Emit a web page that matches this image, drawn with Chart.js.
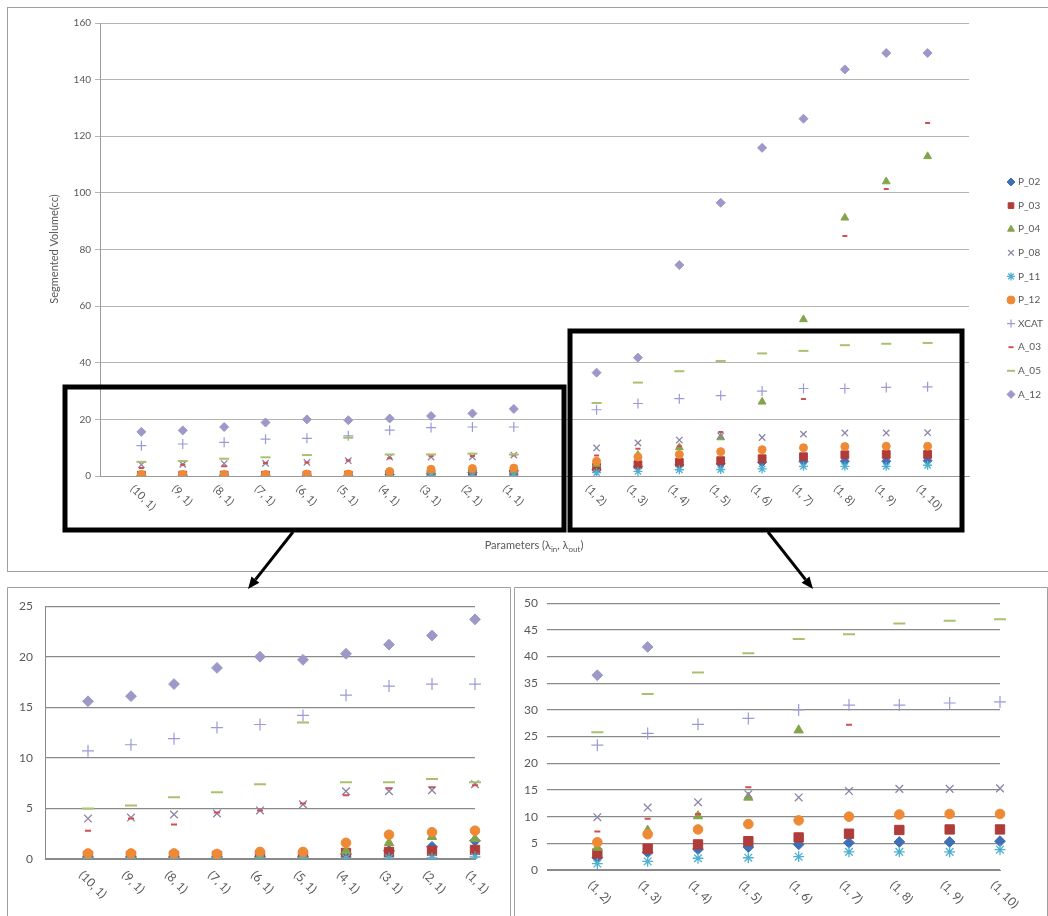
<!DOCTYPE html>
<html>
<head>
<meta charset="utf-8">
<script src="https://cdn.jsdelivr.net/npm/chart.js@4/dist/chart.umd.min.js"></script>
<style>
  body { margin: 0; background: #fff; }
  #page { position: relative; width: 1048px; height: 916px; overflow: hidden; background: #fff; }
  canvas { position: absolute; }
  #mainChart { left: 0; top: 0; z-index: 2; }
  #leftChart { left: 7px; top: 587px; }
  #rightChart { left: 514px; top: 587px; }
</style>
</head>
<body>
<div id="page">
  <canvas id="leftChart" width="504" height="329"></canvas>
  <canvas id="rightChart" width="534" height="329"></canvas>
  <canvas id="mainChart" width="1048" height="590"></canvas>
</div>
<script>
// categories (lambda_in, lambda_out)
const leftLabels = ['(10, 1)', '(9, 1)', '(8, 1)', '(7, 1)', '(6, 1)', '(5, 1)', '(4, 1)', '(3, 1)', '(2, 1)', '(1, 1)'];
const rightLabels = ['(1, 2)', '(1, 3)', '(1, 4)', '(1, 5)', '(1, 6)', '(1, 7)', '(1, 8)', '(1, 9)', '(1, 10)'];

const seriesNames = ['P_02', 'P_03', 'P_04', 'P_08', 'P_11', 'P_12', 'XCAT', 'A_03', 'A_05', 'A_12'];

// segmented volume (cc): first 10 values = left labels, last 9 = right labels
const p02  = [0.2, 0.2, 0.2, 0.2, 0.2, 0.2, 0.5, 0.8, 1.2, 1.8,   2.3, 3.3, 3.9, 4.3, 4.8, 5.1, 5.25, 5.25, 5.4];
const p03  = [0.3, 0.3, 0.3, 0.3, 0.3, 0.3, 0.6, 0.7, 0.8, 0.9,   3.1, 4.0, 4.8, 5.4, 6.1, 6.8, 7.5, 7.6, 7.6];
const p04  = [0.3, 0.3, 0.3, 0.3, 0.3, 0.3, 0.8, 1.6, 2.2, 2.0,   4.2, 7.4, 10.1, 13.6, 26.2, 55.3, 91.2, 104, 112.9];
const p08  = [4.0, 4.1, 4.4, 4.5, 4.8, 5.4, 6.7, 6.7, 6.8, 7.4,   9.9, 11.7, 12.7, 14.2, 13.6, 14.8, 15.2, 15.2, 15.3];
const p11  = [0.1, 0.1, 0.1, 0.1, 0.1, 0.1, 0.1, 0.1, 0.1, 0.2,   1.2, 1.6, 2.2, 2.3, 2.5, 3.4, 3.4, 3.4, 3.8];
const p12  = [0.55, 0.55, 0.55, 0.5, 0.7, 0.7, 1.6, 2.4, 2.65, 2.8,   5.2, 6.7, 7.6, 8.6, 9.3, 10.0, 10.4, 10.5, 10.5];
const xcat = [10.7, 11.3, 11.9, 13.0, 13.3, 14.2, 16.2, 17.1, 17.3, 17.3,   23.4, 25.6, 27.3, 28.4, 30.0, 30.9, 30.9, 31.3, 31.5];
const a03  = [2.8, 4.0, 3.4, 4.6, 4.8, 5.5, 6.3, 7.0, 7.1, 7.3,   7.2, 9.6, 10.5, 15.5, null, 27.2, 84.8, 101.4, 124.7];
const a05  = [5.0, 5.3, 6.1, 6.6, 7.4, 13.5, 7.6, 7.6, 7.9, 7.6,   25.8, 33.0, 37.0, 40.6, 43.3, 44.2, 46.2, 46.7, 47.0];
const a12  = [15.6, 16.1, 17.3, 18.9, 20.0, 19.7, 20.3, 21.2, 22.1, 23.7,   36.5, 41.8, 74.5, 96.5, 115.9, 126.2, 143.6, 149.4, 149.4];

const seriesValues = [p02, p03, p04, p08, p11, p12, xcat, a03, a05, a12];

// marker look per series (Excel-like)
const markerStyles = [
  { style: 'rectRot',  color: '#3f6fb5', r: 4.5, bw: 1 },
  { style: 'rect',     color: '#b03c3a', r: 5.5, bw: 1 },
  { style: 'triangle', color: '#84a44a', r: 4.5, bw: 1 },
  { style: 'crossRot', color: '#8c84a8', r: 4.5, bw: 1.3 },
  { style: 'star',     color: '#4fb0d0', r: 4.5, bw: 1.3 },
  { style: 'circle',   color: '#ee8a36', r: 4,   bw: 1 },
  { style: 'cross',    color: '#9a9ad8', r: 5,   bw: 1.2 },
  { style: 'line',     color: '#d05050', r: 2.5, bw: 2 },
  { style: 'line',     color: '#a8c070', r: 5,   bw: 2 },
  { style: 'rectRot',  color: '#9c98c8', r: 4.5, bw: 1 }
];

const FONT = 'Lato, "Open Sans", "DejaVu Sans", sans-serif';
const TXT = '#595959';

const mainLabels = ['', ...leftLabels, '', ...rightLabels, ''];
const leftPanelLabels = ['', ...leftLabels];
const rightPanelLabels = ['', ...rightLabels];

function makeDatasets(pick, scale) {
  return seriesValues.map((vals, i) => {
    const m = markerStyles[i];
    return {
      label: seriesNames[i],
      data: pick(vals),
      showLine: false,
      pointStyle: m.style,
      pointRadius: m.r * scale,
      pointHoverRadius: m.r * scale,
      pointBorderWidth: m.bw,
      pointBackgroundColor: m.color,
      pointBorderColor: m.color,
      borderColor: m.color,
      backgroundColor: m.color,
      order: seriesValues.length - i
    };
  });
}

// labels rotated 45 degrees clockwise under the axis
function slantedLabels(labels, fontSize, dx, dy) {
  return {
    id: 'slantedLabels',
    afterDraw(chart) {
      const ctx = chart.ctx;
      const xs = chart.scales.x;
      const bottom = chart.chartArea.bottom;
      ctx.save();
      ctx.fillStyle = TXT;
      ctx.font = fontSize + 'px ' + FONT;
      ctx.textAlign = 'left';
      ctx.textBaseline = 'middle';
      labels.forEach((lab, i) => {
        if (!lab) return;
        const x = xs.getPixelForValue(i);
        ctx.save();
        ctx.translate(x + dx, bottom + dy);
        ctx.rotate(Math.PI / 4);
        ctx.fillText(lab, 0, 0);
        ctx.restore();
      });
      ctx.restore();
    }
  };
}

function panelBorder() {
  return {
    id: 'panelBorder',
    beforeDraw(chart) {
      const ctx = chart.ctx;
      const w = chart.width, h = chart.height;
      ctx.save();
      ctx.strokeStyle = '#a0a0a0';
      ctx.lineWidth = 1;
      ctx.beginPath();
      ctx.moveTo(0.5, h);
      ctx.lineTo(0.5, 0.5);
      ctx.lineTo(w - 0.5, 0.5);
      ctx.lineTo(w - 0.5, h);
      ctx.stroke();
      ctx.restore();
    }
  };
}

function drawMarker(ctx, m, x, y, r) {
  ctx.fillStyle = m.color;
  ctx.strokeStyle = m.color;
  ctx.lineWidth = m.bw;
  if (Chart.helpers && Chart.helpers.drawPoint) {
    Chart.helpers.drawPoint(ctx, { pointStyle: m.style, rotation: 0, radius: r, borderWidth: m.bw }, x, y);
  } else {
    ctx.beginPath();
    ctx.arc(x, y, r, 0, Math.PI * 2);
    ctx.fill();
  }
}

function arrow(ctx, x1, y1, x2, y2) {
  const ang = Math.atan2(y2 - y1, x2 - x1);
  const len = 12, half = 5;
  const bx = x2 - len * Math.cos(ang), by = y2 - len * Math.sin(ang);
  ctx.beginPath();
  ctx.moveTo(x1, y1);
  ctx.lineTo(bx, by);
  ctx.stroke();
  ctx.beginPath();
  ctx.moveTo(x2, y2);
  ctx.lineTo(bx + half * Math.sin(ang), by - half * Math.cos(ang));
  ctx.lineTo(bx - half * Math.sin(ang), by + half * Math.cos(ang));
  ctx.closePath();
  ctx.fill();
}

// titles, legend, zoom boxes and arrows of the main chart
const mainDecor = {
  id: 'mainDecor',
  beforeDraw(chart) {
    const ctx = chart.ctx;
    ctx.save();
    ctx.strokeStyle = '#a0a0a0';
    ctx.lineWidth = 1;
    ctx.strokeRect(7.5, 7.5, 1050, 564);
    ctx.restore();
  },
  afterDraw(chart) {
    const ctx = chart.ctx;
    ctx.save();
    ctx.fillStyle = TXT;

    // y title
    ctx.font = '11px ' + FONT;
    ctx.textAlign = 'center';
    ctx.textBaseline = 'middle';
    ctx.save();
    ctx.translate(54, 249);
    ctx.rotate(-Math.PI / 2);
    ctx.fillText('Segmented Volume(cc)', 0, 0);
    ctx.restore();

    // x title with subscripts
    const parts = [['Parameters (\u03bb', 0], ['in', 1], [', \u03bb', 0], ['out', 1], [')', 0]];
    const big = '11px ' + FONT, small = '8px ' + FONT;
    let total = 0;
    parts.forEach(p => { ctx.font = p[1] ? small : big; total += ctx.measureText(p[0]).width; });
    let x = 534 - total / 2;
    ctx.textAlign = 'left';
    ctx.textBaseline = 'alphabetic';
    parts.forEach(p => {
      ctx.font = p[1] ? small : big;
      ctx.fillText(p[0], x, p[1] ? 552 : 549);
      x += ctx.measureText(p[0]).width;
    });

    // legend
    ctx.textBaseline = 'middle';
    seriesNames.forEach((name, i) => {
      const y = 182 + i * 23.6;
      const m = markerStyles[i];
      drawMarker(ctx, m, 1011, y, Math.min(m.r, 4));
      ctx.fillStyle = TXT;
      ctx.font = '10px ' + FONT;
      ctx.fillText(name, 1018, y);
    });

    // zoom boxes
    ctx.strokeStyle = '#000';
    ctx.lineWidth = 5;
    ctx.strokeRect(65, 387, 499, 143);
    ctx.strokeRect(570, 331, 392, 199);

    // arrows to the zoomed panels
    ctx.lineWidth = 3;
    ctx.fillStyle = '#000';
    arrow(ctx, 293, 532, 248, 589);
    arrow(ctx, 768, 532, 813, 589);
    ctx.restore();
  }
};

const mainChart = new Chart(document.getElementById('mainChart'), {
  type: 'line',
  data: {
    labels: mainLabels,
    datasets: makeDatasets(v => [null, ...v.slice(0, 10), null, ...v.slice(10), null], 1)
  },
  options: {
    responsive: false,
    animation: false,
    devicePixelRatio: 1,
    layout: { padding: { left: 0, top: 23, right: 79, bottom: 0 } },
    plugins: { legend: { display: false }, tooltip: { enabled: false } },
    scales: {
      x: {
        type: 'category',
        offset: false,
        grid: { display: false },
        ticks: { display: false },
        border: { display: true, color: '#9a9a9a' },
        afterFit: s => { s.height = 114; }
      },
      y: {
        min: 0,
        max: 160,
        ticks: { stepSize: 20, color: TXT, font: { family: FONT, size: 10 }, padding: 4 },
        grid: { color: '#b4b4b4', tickLength: 5 },
        border: { display: true, color: '#9a9a9a' },
        afterFit: s => { s.width = 100; }
      }
    }
  },
  plugins: [mainDecor, slantedLabels(mainLabels, 11, -9, 11)]
});

const leftChart = new Chart(document.getElementById('leftChart'), {
  type: 'line',
  data: {
    labels: leftPanelLabels,
    datasets: makeDatasets(v => [null, ...v.slice(0, 10)], 1.2)
  },
  options: {
    responsive: false,
    animation: false,
    devicePixelRatio: 1,
    layout: { padding: { left: 0, top: 14, right: 36, bottom: 0 } },
    plugins: { legend: { display: false }, tooltip: { enabled: false } },
    scales: {
      x: {
        type: 'category',
        offset: false,
        grid: { display: false },
        ticks: { display: false },
        border: { display: true, color: '#8a8a8a' },
        afterFit: s => { s.height = 57; }
      },
      y: {
        min: 0,
        max: 25,
        ticks: { stepSize: 5, color: TXT, font: { family: FONT, size: 12 }, padding: 12 },
        grid: { color: '#8a8a8a', lineWidth: 1.3, drawTicks: false },
        border: { display: true, color: '#8a8a8a' },
        afterFit: s => { s.width = 38; }
      }
    }
  },
  plugins: [panelBorder(), slantedLabels(leftPanelLabels, 12, -7, 14)]
});

const rightChart = new Chart(document.getElementById('rightChart'), {
  type: 'line',
  data: {
    labels: rightPanelLabels,
    datasets: makeDatasets(v => [null, ...v.slice(10)], 1.2)
  },
  options: {
    responsive: false,
    animation: false,
    devicePixelRatio: 1,
    layout: { padding: { left: 0, top: 13, right: 48, bottom: 0 } },
    plugins: { legend: { display: false }, tooltip: { enabled: false } },
    scales: {
      x: {
        type: 'category',
        offset: false,
        grid: { display: false },
        ticks: { display: false },
        border: { display: true, color: '#8a8a8a' },
        afterFit: s => { s.height = 46; }
      },
      y: {
        min: 0,
        max: 50,
        ticks: { stepSize: 5, color: TXT, font: { family: FONT, size: 12 }, padding: 9 },
        grid: { color: '#8a8a8a', lineWidth: 1.3, drawTicks: false },
        border: { display: false },
        afterFit: s => { s.width = 33; }
      }
    }
  },
  plugins: [panelBorder(), slantedLabels(rightPanelLabels, 12, -7, 13)]
});
</script>
</body>
</html>
